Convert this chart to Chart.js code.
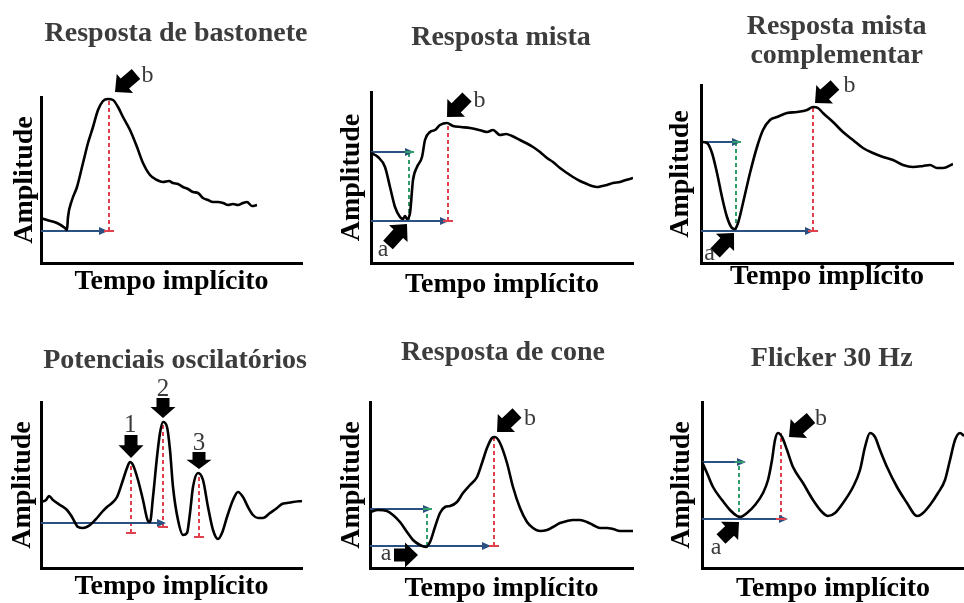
<!DOCTYPE html>
<html lang="pt">
<head>
<meta charset="utf-8">
<title>Componentes do ERG</title>
<script src="https://cdn.jsdelivr.net/npm/chart.js@4.4.1/dist/chart.umd.min.js"></script>
<style>
  html, body { margin: 0; padding: 0; background: #fff; overflow: hidden; }
  #figure { position: relative; width: 964px; height: 603px; }
  #figure canvas { position: absolute; }
</style>
</head>
<body>
<div id="figure">
  <canvas id="rod"></canvas>
  <canvas id="mixed"></canvas>
  <canvas id="comp"></canvas>
  <canvas id="ops"></canvas>
  <canvas id="cone"></canvas>
  <canvas id="flicker"></canvas>
</div>
<script>
// Waveforms: time (arbitrary units from stimulus) vs amplitude (arbitrary units)
// Marks: levels = [end time, amplitude] (blue arrows from t=0)
//        peaks / troughs = [time, amp from, amp to] (red / green dashed drops)
//        pointers = [tip t, tip a, tail t, tail a], tags = [text, t, a]

// Resposta de bastonete
const rodTime = [0, 6, 16, 24, 26, 27, 31, 36, 42, 47, 52, 57, 62, 67, 72, 77, 82, 89, 96, 102, 109, 116, 122, 128, 132, 137, 142, 147, 152, 157, 162, 167, 172, 177, 182, 187, 192, 197, 202, 206, 211, 216];
const rodAmp = [45, 43, 40, 35, 33, 46, 63, 76, 100, 120, 136, 153, 162, 164, 163, 156, 146, 133, 116, 100, 88, 83, 81, 82, 80, 79, 76, 74, 71, 70, 65, 63, 61, 61, 60, 58, 59, 58, 60, 61, 57, 58];
const rodLevels = [[66, 32]];
const rodPeaks = [[68, 32, 164]];
const rodTroughs = [];
const rodPointers = [[74, 171, 95, 189]];
const rodTags = [['b', 106.5, 181]];

// Resposta mista
const mixedTime = [0, 7, 14, 19, 24, 29, 32, 34, 36, 39, 42, 46, 51, 54, 59, 64, 69, 76, 82, 90, 99, 108, 116, 122, 129, 135, 141, 149, 155, 162, 169, 176, 182, 189, 196, 202, 209, 216, 221, 226, 231, 236, 242, 249, 255, 262];
const mixedAmp = [110, 106, 96, 76, 56, 46, 44, 47, 44, 50, 83, 96, 106, 123, 131, 133, 138, 140, 137, 136, 135, 133, 131, 133, 128, 129, 127, 123, 120, 116, 111, 105, 101, 95, 90, 86, 82, 79, 77, 76, 77, 78, 80, 81, 83, 85];
const mixedLevels = [[42, 111], [77, 42]];
const mixedPeaks = [[77, 42, 140]];
const mixedTroughs = [[38, 43, 111]];
const mixedPointers = [[36, 39, 17, 18], [76, 146, 96, 166]];
const mixedTags = [['a', 12, 7], ['b', 108.5, 155.7]];

// Resposta mista complementar
const compTime = [0, 6, 11, 16, 21, 26, 31, 34, 37, 42, 49, 56, 62, 69, 76, 86, 96, 106, 112, 117, 122, 132, 142, 152, 162, 172, 182, 192, 202, 212, 222, 229, 236, 242, 252];
const compAmp = [121, 120, 110, 90, 66, 46, 35, 34, 40, 60, 90, 116, 133, 143, 146, 150, 151, 153, 156, 155, 150, 141, 131, 123, 115, 110, 106, 103, 98, 96, 97, 98, 95, 95, 99];
const compLevels = [[39, 121], [112, 32]];
const compPeaks = [[112, 32, 155]];
const compTroughs = [[35, 33, 121]];
const compPointers = [[33, 30, 14, 10], [114, 160, 134, 178]];
const compTags = [['a', 8.5, 3], ['b', 148.5, 171.3]];

// Potenciais oscilatórios
const opsTime = [0, 5, 8, 12, 19, 26, 31, 37, 42, 49, 56, 61, 66, 71, 76, 81, 86, 89, 92, 97, 102, 107, 109, 112, 116, 119, 122, 126, 129, 132, 137, 142, 146, 149, 152, 157, 162, 167, 172, 177, 181, 186, 192, 197, 202, 207, 212, 217, 222, 229, 236, 241, 246, 252, 261];
const opsAmp = [66, 68, 72, 68, 63, 58, 51, 41, 40, 43, 50, 56, 61, 65, 71, 85, 100, 106, 103, 88, 68, 47, 46, 71, 111, 135, 146, 141, 118, 81, 48, 33, 35, 55, 81, 95, 88, 61, 38, 29, 35, 51, 68, 76, 71, 61, 53, 50, 50, 55, 60, 64, 65, 66, 67];
const opsLevels = [[124, 45]];
const opsPeaks = [[90, 35, 106], [122, 41, 146], [158, 31, 95]];
const opsTroughs = [];
const opsPointers = [[90, 110, 90, 133], [122, 150, 122, 170], [158, 99, 158, 116]];
const opsTags = [['1', 89.3, 136.3], ['2', 122, 172], ['3', 158, 118]];

// Resposta de cone
const coneTime = [0, 8, 17, 23, 30, 37, 43, 50, 56, 60, 65, 70, 75, 80, 87, 93, 100, 107, 112, 117, 122, 125, 130, 137, 143, 150, 157, 163, 170, 177, 183, 190, 197, 203, 210, 217, 223, 230, 237, 243, 250, 263];
const coneAmp = [56, 58, 57, 53, 46, 36, 28, 23, 21, 26, 41, 55, 61, 62, 66, 75, 83, 91, 105, 120, 130, 131, 125, 105, 81, 60, 46, 40, 37, 38, 41, 45, 47, 48, 48, 46, 43, 40, 40, 39, 37, 37];
const coneLevels = [[61, 59], [120, 22]];
const conePeaks = [[124, 22, 131]];
const coneTroughs = [[57, 22, 59]];
const conePointers = [[48, 13, 24, 13], [127, 136, 147, 155]];
const coneTags = [['a', 16, 8], ['b', 160, 143]];

// Flicker 30 Hz
const flickerTime = [0, 5, 11, 20, 28, 35, 38, 45, 53, 61, 66, 70, 73, 76, 80, 85, 91, 101, 111, 120, 126, 133, 141, 151, 158, 163, 168, 173, 178, 185, 195, 205, 213, 216, 221, 228, 236, 243, 248, 253, 258, 262];
const flickerAmp = [106, 95, 81, 68, 58, 52, 51, 55, 63, 75, 88, 108, 128, 135, 131, 118, 101, 85, 68, 56, 52, 55, 65, 81, 98, 121, 135, 131, 118, 101, 81, 65, 53, 52, 55, 63, 75, 88, 108, 128, 135, 132];
const flickerLevels = [[43, 106], [85, 49]];
const flickerPeaks = [[79, 49, 135]];
const flickerTroughs = [[37, 49, 106]];
const flickerPointers = [[37, 46, 19, 29], [87, 131, 109, 150]];
const flickerTags = [['a', 14, 14], ['b', 119, 143]];

const BLUE = '#2b5182';
const RED = '#e0414d';
const GREEN = '#2f9e68';
const SERIF = '"Liberation Serif", "Times New Roman", serif';
const AXIS_FONT = { family: SERIF, size: 28, weight: 'bold', lineHeight: 1 };

// canvas box, layout padding and axis-title padding for each panel
const panels = [
  { id: 'rod', box: [0, 0, 320, 300], pad: { top: 97, right: 18, left: 11, bottom: 4.5 },
    yPad: { top: 0, bottom: 2 }, xPad: { top: 4.5, bottom: 0 }, span: [261, 166],
    heading: ['Resposta de bastonete'], headingAt: [176, [34]],
    time: rodTime, amp: rodAmp, levels: rodLevels, peaks: rodPeaks, troughs: rodTroughs, pointers: rodPointers, tags: rodTags },
  { id: 'mixed', box: [320, 0, 320, 300], pad: { top: 92, right: 7, left: 17.7, bottom: 1 },
    yPad: { top: 0, bottom: 5.3 }, xPad: { top: 8, bottom: 0 }, span: [262, 171],
    heading: ['Resposta mista'], headingAt: [181, [37.5]],
    time: mixedTime, amp: mixedAmp, levels: mixedLevels, peaks: mixedPeaks, troughs: mixedTroughs, pointers: mixedPointers, tags: mixedTags },
  { id: 'comp', box: [640, 0, 324, 300], pad: { top: 85, right: 11, left: 27, bottom: 9 },
    yPad: { top: 0, bottom: 6 }, xPad: { top: 0, bottom: 0 }, span: [252, 178],
    heading: ['Resposta mista', 'complementar'], headingAt: [196.7, [26.7, 56]],
    time: compTime, amp: compAmp, levels: compLevels, peaks: compPeaks, troughs: compTroughs, pointers: compPointers, tags: compTags },
  { id: 'ops', box: [0, 300, 320, 303], pad: { top: 102, right: 18, left: 9, bottom: 2 },
    yPad: { top: 0, bottom: 4 }, xPad: { top: 5, bottom: 0 }, span: [261, 166],
    heading: ['Potenciais oscilatórios'], headingAt: [175, [61]],
    time: opsTime, amp: opsAmp, levels: opsLevels, peaks: opsPeaks, troughs: opsTroughs, pointers: opsPointers, tags: opsTags },
  { id: 'cone', box: [320, 300, 320, 303], pad: { top: 102, right: 7, left: 17.7, bottom: 0 },
    yPad: { top: 0, bottom: 4.3 }, xPad: { top: 7, bottom: 0 }, span: [263, 166],
    heading: ['Resposta de cone'], headingAt: [183, [52.5]],
    time: coneTime, amp: coneAmp, levels: coneLevels, peaks: conePeaks, troughs: coneTroughs, pointers: conePointers, tags: coneTags },
  { id: 'flicker', box: [640, 300, 324, 303], pad: { top: 102, right: 0, left: 27.7, bottom: 0 },
    yPad: { top: 0, bottom: 6.3 }, xPad: { top: 7, bottom: 0 }, span: [262, 166],
    heading: ['Flicker 30 Hz'], headingAt: [191.7, [59]],
    time: flickerTime, amp: flickerAmp, levels: flickerLevels, peaks: flickerPeaks, troughs: flickerTroughs, pointers: flickerPointers, tags: flickerTags }
];

const segment = (points, color, dashed, width) => ({
  data: points.map(([x, y]) => ({ x, y })),
  showLine: true,
  borderColor: color,
  borderWidth: width,
  borderDash: dashed ? [4, 3] : [],
  pointRadius: 0,
  tension: 0
});

// thick black block arrow from tail to tip
const drawPointer = (ctx, x0, y0, x1, y1) => {
  const len = Math.hypot(x1 - x0, y1 - y0);
  const ux = (x1 - x0) / len, uy = (y1 - y0) / len;
  const nx = -uy, ny = ux;
  const head = Math.min(13, len * 0.55), hw = 12.5, sw = 6.5;
  const bx = x1 - ux * head, by = y1 - uy * head;
  ctx.beginPath();
  ctx.moveTo(x0 + nx * sw, y0 + ny * sw);
  ctx.lineTo(bx + nx * sw, by + ny * sw);
  ctx.lineTo(bx + nx * hw, by + ny * hw);
  ctx.lineTo(x1, y1);
  ctx.lineTo(bx - nx * hw, by - ny * hw);
  ctx.lineTo(bx - nx * sw, by - ny * sw);
  ctx.lineTo(x0 - nx * sw, y0 - ny * sw);
  ctx.closePath();
  ctx.fill();
};

const marksPlugin = (p) => ({
  id: 'marks',
  afterDatasetsDraw(chart) {
    const { ctx, scales: { x, y } } = chart;
    const px = t => x.getPixelForValue(t);
    const py = a => y.getPixelForValue(a);
    ctx.save();

    // arrowheads on the blue time lines
    ctx.fillStyle = BLUE;
    p.levels.forEach(([t, a]) => {
      const X = px(t), Y = py(a);
      ctx.beginPath();
      ctx.moveTo(X + 1, Y);
      ctx.lineTo(X - 8, Y - 4);
      ctx.lineTo(X - 8, Y + 4);
      ctx.closePath();
      ctx.fill();
    });

    // small caps at the ends of the dashed drops
    ctx.lineWidth = 2;
    ctx.strokeStyle = RED;
    p.peaks.forEach(([t, a0]) => {
      ctx.beginPath();
      ctx.moveTo(px(t) - 5, py(a0));
      ctx.lineTo(px(t) + 5, py(a0));
      ctx.stroke();
    });
    ctx.strokeStyle = GREEN;
    p.troughs.forEach(([t, , a1]) => {
      ctx.beginPath();
      ctx.moveTo(px(t) - 4, py(a1));
      ctx.lineTo(px(t) + 5, py(a1));
      ctx.stroke();
    });

    ctx.fillStyle = '#000';
    p.pointers.forEach(([t1, a1, t0, a0]) => drawPointer(ctx, px(t0), py(a0), px(t1), py(a1)));

    ctx.fillStyle = '#3a3a3a';
    ctx.textAlign = 'center';
    ctx.textBaseline = 'alphabetic';
    p.tags.forEach(([text, t, a]) => {
      ctx.font = (/\d/.test(text) ? '25px ' : '24px ') + SERIF;
      ctx.fillText(text, px(t), py(a));
    });

    // panel heading
    ctx.font = 'bold 28px ' + SERIF;
    ctx.fillStyle = '#3c3c3c';
    ctx.textBaseline = 'middle';
    p.heading.forEach((line, i) => ctx.fillText(line, p.headingAt[0], p.headingAt[1][i]));
    ctx.restore();
  }
});

panels.forEach(p => {
  const canvas = document.getElementById(p.id);
  const [left, top, w, h] = p.box;
  canvas.width = w;
  canvas.height = h;
  canvas.style.left = left + 'px';
  canvas.style.top = top + 'px';

  const wave = {
    data: p.time.map((t, i) => ({ x: t, y: p.amp[i] })),
    showLine: true,
    borderColor: '#000',
    borderWidth: 2.6,
    pointRadius: 0,
    cubicInterpolationMode: 'monotone'
  };
  const guides = [
    ...p.levels.map(([t, a]) => segment([[0, a], [t - 6, a]], BLUE, false, 1.8)),
    ...p.peaks.map(([t, a0, a1]) => segment([[t, a0], [t, a1]], RED, true, 2)),
    ...p.troughs.map(([t, a0, a1]) => segment([[t, a0], [t, a1]], GREEN, true, 2))
  ];

  const axis = (max, label, padding) => ({
    min: 0,
    max,
    grid: { display: false, drawTicks: false },
    border: { color: '#000', width: 3 },
    ticks: { display: false },
    title: { display: true, text: label, color: '#000', font: AXIS_FONT, padding }
  });

  new Chart(canvas, {
    type: 'scatter',
    data: { datasets: [wave, ...guides] },
    options: {
      responsive: false,
      animation: false,
      layout: { padding: p.pad },
      plugins: { legend: { display: false }, tooltip: { enabled: false } },
      scales: {
        x: axis(p.span[0], 'Tempo implícito', p.xPad),
        y: axis(p.span[1], 'Amplitude', p.yPad)
      }
    },
    plugins: [marksPlugin(p)]
  });
});
</script>
</body>
</html>
